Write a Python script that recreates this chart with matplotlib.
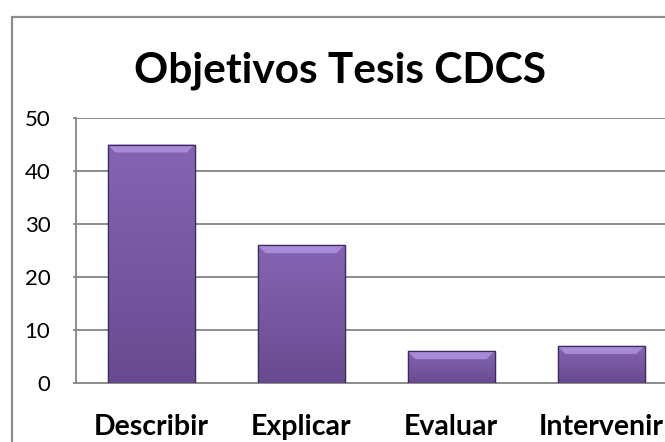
import matplotlib
matplotlib.use("Agg")
import matplotlib.pyplot as plt
import numpy as np
from matplotlib.patches import Rectangle, Polygon
from matplotlib.colors import LinearSegmentedColormap

categories = ["Describir", "Explicar", "Evaluar", "Intervenir"]
values = [45, 26, 6, 7]
yticks = [0, 10, 20, 30, 40, 50]
title = "Objetivos Tesis CDCS"

W, H = 665, 442
fig = plt.figure(figsize=(W / 100, H / 100), dpi=100)
fig.patch.set_facecolor("white")

# outer chart frame (extends past the right/bottom edge like the reference crop)
fig.patches.append(Rectangle((12 / W, -0.2), 1.2, 1 - 17 / H + 0.2,
                             transform=fig.transFigure, fill=False,
                             edgecolor="#8c8c8c", linewidth=1.6))

left, right = 76 / W, 676 / W
bottom, top = 1 - 383 / H, 1 - 118 / H
ax = fig.add_axes([left, bottom, right - left, top - bottom])
ax.set_facecolor("white")

for s in ["top", "right"]:
    ax.spines[s].set_visible(False)
for s in ["left", "bottom"]:
    ax.spines[s].set_color("#8c8c8c")
    ax.spines[s].set_linewidth(1.4)

ax.set_yticks(yticks)
ax.set_yticklabels([str(v) for v in yticks], fontsize=16, family="Lato")
ax.tick_params(axis="y", length=2, width=1.4, color="#8c8c8c", pad=16.5)
ax.set_xticks(range(len(categories)))
ax.set_xticklabels(categories, fontsize=20.5, fontweight="bold", family="Lato")
ax.tick_params(axis="x", length=0, pad=37.4)
for lab in ax.get_xticklabels():
    lab.set_va("baseline")
ax.yaxis.grid(True, color="#8c8c8c", linewidth=1.4)
ax.set_axisbelow(True)

bars = ax.bar(range(len(categories)), values, width=0.58,
              color="#7657a0", edgecolor="#3e2b5c", linewidth=0.9, zorder=3)

cmap = LinearSegmentedColormap.from_list("pur", ["#8565b3", "#684a90"])
grad = np.linspace(0, 1, 256).reshape(-1, 1)
px_per_unit_y = (383 - 118) / 50
px_per_unit_x = 150
for b in bars:
    x0, y0 = b.get_x(), b.get_y()
    w, h = b.get_width(), b.get_height()
    im = ax.imshow(grad, cmap=cmap, aspect="auto", origin="upper",
                   extent=(x0, x0 + w, y0, y0 + h), zorder=3.1)
    im.set_clip_path(b)
    # top bevel
    bh = 8 / px_per_unit_y
    bw = 8 / px_per_unit_x
    ytop = y0 + h
    ax.add_patch(Polygon([(x0, ytop), (x0 + w, ytop), (x0 + w - bw, ytop - bh),
                          (x0 + bw, ytop - bh)], closed=True,
                         facecolor="#a88bd8", edgecolor="none", zorder=3.2))
    ax.add_patch(Rectangle((x0, y0), w, h, fill=False, edgecolor="#3e2b5c",
                           linewidth=0.9, zorder=3.3))
ax.set_xlim(-0.5, len(categories) - 0.5)
ax.set_ylim(0, 50)

fig.text(340 / W, 1 - 82 / H, title, ha="center", va="baseline",
         fontsize=30.5, fontweight="bold", family="Lato")

fig.savefig("out.png", dpi=100)
